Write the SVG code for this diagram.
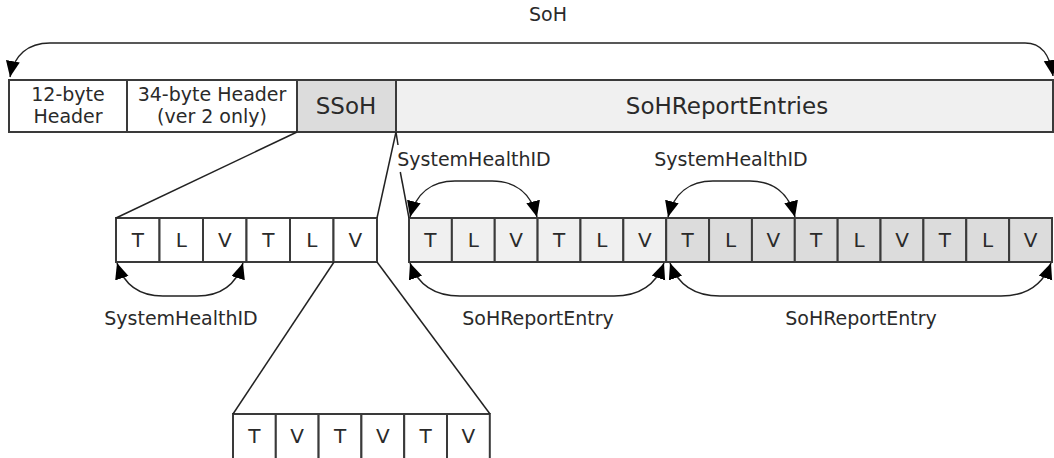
<svg xmlns="http://www.w3.org/2000/svg" width="1054" height="458" viewBox="0 0 1054 458">
<style>
  .box { stroke: #3a3a3a; stroke-width: 2; }
  .w { fill: #ffffff; }
  .lg { fill: #f0f0f0; }
  .dg { fill: #dcdcdc; }
  .t { font-family: "DejaVu Sans", Verdana, sans-serif; fill: #2a2a2a; text-anchor: middle; }
  .lbl { font-size: 19px; }
  .cell { font-size: 20px; }
  .big { font-size: 23px; }
  .conn { fill: none; stroke: #222; stroke-width: 1.5; }
  .arc { fill: none; stroke: #222; stroke-width: 1.5; marker-start: url(#ah); marker-end: url(#ah); }
</style>
<defs>
  <marker id="ah" markerUnits="userSpaceOnUse" markerWidth="17" markerHeight="15" refX="16" refY="7" orient="auto-start-reverse">
    <path d="M0,0 L16,7 L0,14 Z" fill="#000"/>
  </marker>
</defs>
<rect width="1054" height="458" fill="#fff"/>

<g id="soh-label">
  <text class="t lbl" x="548" y="21">SoH</text>
</g>

<g id="header12">
  <rect class="box w" x="9" y="80" width="118" height="52"/>
  <text class="t lbl" x="68" y="101">12-byte</text>
  <text class="t lbl" x="68" y="123">Header</text>
</g>
<g id="header34">
  <rect class="box w" x="127" y="80" width="170" height="52"/>
  <text class="t lbl" x="212" y="101">34-byte Header</text>
  <text class="t lbl" x="212" y="123">(ver 2 only)</text>
</g>
<g id="ssoh">
  <rect class="box dg" x="297" y="80" width="99" height="52"/>
  <text class="t big" x="346" y="114">SSoH</text>
</g>
<g id="sohreportentries">
  <rect class="box lg" x="396" y="80" width="657" height="52"/>
  <text class="t big" x="727" y="114">SoHReportEntries</text>
</g>

<g id="row1">
  <rect class="box w" x="116" y="218" width="43.5" height="44"/>
  <rect class="box w" x="159.5" y="218" width="43.5" height="44"/>
  <rect class="box w" x="203" y="218" width="43.5" height="44"/>
  <rect class="box w" x="246.5" y="218" width="43.5" height="44"/>
  <rect class="box w" x="290" y="218" width="43.5" height="44"/>
  <rect class="box w" x="333.5" y="218" width="43.5" height="44"/>
  <text class="t cell" x="137.75" y="247">T</text>
  <text class="t cell" x="181.25" y="247">L</text>
  <text class="t cell" x="224.75" y="247">V</text>
  <text class="t cell" x="268.25" y="247">T</text>
  <text class="t cell" x="311.75" y="247">L</text>
  <text class="t cell" x="355.25" y="247">V</text>
</g>

<g id="row2">
  <rect class="box lg" x="409" y="218" width="42.87" height="44"/>
  <rect class="box lg" x="451.87" y="218" width="42.87" height="44"/>
  <rect class="box lg" x="494.73" y="218" width="42.87" height="44"/>
  <rect class="box lg" x="537.6" y="218" width="42.87" height="44"/>
  <rect class="box lg" x="580.47" y="218" width="42.87" height="44"/>
  <rect class="box lg" x="623.33" y="218" width="42.87" height="44"/>
  <rect class="box dg" x="666.2" y="218" width="42.87" height="44"/>
  <rect class="box dg" x="709.07" y="218" width="42.87" height="44"/>
  <rect class="box dg" x="751.93" y="218" width="42.87" height="44"/>
  <rect class="box dg" x="794.8" y="218" width="42.87" height="44"/>
  <rect class="box dg" x="837.67" y="218" width="42.87" height="44"/>
  <rect class="box dg" x="880.53" y="218" width="42.87" height="44"/>
  <rect class="box dg" x="923.4" y="218" width="42.87" height="44"/>
  <rect class="box dg" x="966.27" y="218" width="42.87" height="44"/>
  <rect class="box dg" x="1009.13" y="218" width="42.87" height="44"/>
  <text class="t cell" x="430.4" y="247">T</text>
  <text class="t cell" x="473.3" y="247">L</text>
  <text class="t cell" x="516.2" y="247">V</text>
  <text class="t cell" x="559.0" y="247">T</text>
  <text class="t cell" x="601.9" y="247">L</text>
  <text class="t cell" x="644.8" y="247">V</text>
  <text class="t cell" x="687.6" y="247">T</text>
  <text class="t cell" x="730.5" y="247">L</text>
  <text class="t cell" x="773.4" y="247">V</text>
  <text class="t cell" x="816.2" y="247">T</text>
  <text class="t cell" x="859.1" y="247">L</text>
  <text class="t cell" x="902.0" y="247">V</text>
  <text class="t cell" x="944.8" y="247">T</text>
  <text class="t cell" x="987.7" y="247">L</text>
  <text class="t cell" x="1030.6" y="247">V</text>
</g>

<g id="row3">
  <rect class="box w" x="233" y="414" width="42.8" height="50"/>
  <rect class="box w" x="275.8" y="414" width="42.8" height="50"/>
  <rect class="box w" x="318.6" y="414" width="42.8" height="50"/>
  <rect class="box w" x="361.4" y="414" width="42.8" height="50"/>
  <rect class="box w" x="404.2" y="414" width="42.8" height="50"/>
  <rect class="box w" x="447" y="414" width="42.8" height="50"/>
  <text class="t cell" x="254.4" y="443">T</text>
  <text class="t cell" x="297.2" y="443">V</text>
  <text class="t cell" x="340" y="443">T</text>
  <text class="t cell" x="382.8" y="443">V</text>
  <text class="t cell" x="425.6" y="443">T</text>
  <text class="t cell" x="468.4" y="443">V</text>
</g>

<g id="labels">
  <text class="t lbl" x="181" y="325">SystemHealthID</text>
  <text class="t lbl" x="474" y="166">SystemHealthID</text>
  <text class="t lbl" x="731" y="166">SystemHealthID</text>
  <text class="t lbl" x="538" y="325">SoHReportEntry</text>
  <text class="t lbl" x="861" y="325">SoHReportEntry</text>
</g>

<g id="connectors">
  <path class="conn" d="M297,132 L116,218"/>
  <path class="conn" d="M396,132 L377,218"/>
  <path class="conn" d="M396,132 L398,145"/>
  <path class="conn" d="M400.3,172 L409,218"/>
  <path class="conn" d="M334,262 L233,414"/>
  <path class="conn" d="M377,262 L490,414"/>
  <path class="arc" d="M10,77 C14,55 28,43 50,43 L1025,43 C1042,43 1050,55 1053,76"/>
  <path class="arc" d="M117,263 C124,285 140,296 163,296 L197,296 C220,296 236,285 243,263"/>
  <path class="arc" d="M410,217 C416,193 432,181 455,181 L492,181 C515,181 531,193 537,217"/>
  <path class="arc" d="M668,217 C674,193 690,181 713,181 L750,181 C773,181 789,193 795,217"/>
  <path class="arc" d="M410,263 C418,285 434,296 460,296 L614,296 C640,296 656,285 664,263"/>
  <path class="arc" d="M670,263 C678,285 694,296 720,296 L1001,296 C1027,296 1043,285 1051,263"/>
</g>
</svg>
